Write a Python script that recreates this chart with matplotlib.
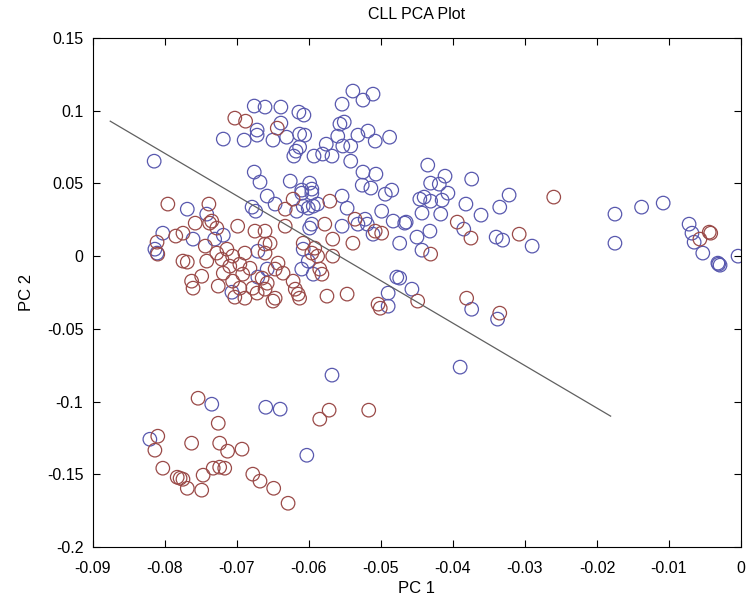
import numpy as np
import matplotlib.pyplot as plt

plt.rcParams['font.family'] = ['Liberation Sans', 'DejaVu Sans']

# grupo 1 (azul)
blue_x = [-0.0815, -0.0719, -0.0690, -0.0676, -0.0676, -0.0668, -0.0539, -0.0511, -0.0525, -0.0554,
          -0.0661, -0.0639, -0.0614, -0.0607, -0.0639, -0.0557, -0.0551, -0.0672, -0.0672, -0.0650,
          -0.0631, -0.0613, -0.0606, -0.0560, -0.0532, -0.0518, -0.0508, -0.0488, -0.0576, -0.0553,
          -0.0542, -0.0613, -0.0618, -0.0621, -0.0593, -0.0581, -0.0568, -0.0542, -0.0626, -0.0599,
          -0.0610, -0.0596, -0.0525, -0.0507, -0.0526, -0.0514, -0.0494, -0.0485, -0.0554, -0.0658,
          -0.0435, -0.0411, -0.0374, -0.0431, -0.0419, -0.0407, -0.0446, -0.0440, -0.0431, -0.0415,
          -0.0382, -0.0322, -0.0335, -0.0361, -0.0443, -0.0417, -0.0465, -0.0432, -0.0450, -0.0385,
          -0.0340, -0.0331, -0.0290, -0.0474, -0.0443, -0.0474, -0.0457, -0.0374, -0.0338, -0.0175,
          -0.0138, -0.0108, -0.0072, -0.0068, -0.0065, -0.0053, -0.0175, -0.0032, -0.0031, -0.0029,
          -0.0004, -0.0769, -0.0742, -0.0803, -0.0761, -0.0731, -0.0719, -0.0814, -0.0811, -0.0671,
          -0.0679, -0.0674, -0.0707, -0.0671, -0.0658, -0.0647, -0.0610, -0.0596, -0.0547, -0.0608,
          -0.0601, -0.0594, -0.0588, -0.0617, -0.0596, -0.0599, -0.0554, -0.0532, -0.0522, -0.0519,
          -0.0511, -0.0499, -0.0483, -0.0467, -0.0608, -0.0601, -0.0610, -0.0594, -0.0478, -0.0490,
          -0.0490, -0.0735, -0.0821, -0.0660, -0.0640, -0.0568, -0.0390, -0.0603]
blue_y = [0.0653, 0.0805, 0.0798, 0.1032, 0.0578, 0.0509, 0.1135, 0.1114, 0.1073, 0.1045,
          0.1025, 0.1025, 0.0990, 0.0970, 0.0915, 0.0908, 0.0922, 0.0867, 0.0832, 0.0798,
          0.0818, 0.0839, 0.0832, 0.0825, 0.0832, 0.0860, 0.0791, 0.0818, 0.0770, 0.0757,
          0.0757, 0.0750, 0.0722, 0.0688, 0.0688, 0.0702, 0.0688, 0.0653, 0.0516, 0.0502,
          0.0454, 0.0461, 0.0578, 0.0564, 0.0488, 0.0468, 0.0426, 0.0454, 0.0413, 0.0413,
          0.0626, 0.0550, 0.0530, 0.0502, 0.0495, 0.0433, 0.0392, 0.0406, 0.0378, 0.0385,
          0.0358, 0.0420, 0.0337, 0.0282, 0.0296, 0.0289, 0.0234, 0.0172, 0.0131, 0.0186,
          0.0131, 0.0110, 0.0069, 0.0089, 0.0041, -0.0151, -0.0227, -0.0365, -0.0433, 0.0289,
          0.0337, 0.0365, 0.0220, 0.0158, 0.0096, 0.0021, 0.0089, -0.0048, -0.0055, -0.0062,
          0.0000, 0.0323, 0.0289, 0.0158, 0.0117, 0.0117, 0.0144, 0.0048, 0.0021, 0.0034,
          0.0337, 0.0309, -0.0248, -0.0144, -0.0089, 0.0358, 0.0433, 0.0433, 0.0330, 0.0344,
          0.0330, 0.0344, 0.0358, 0.0309, 0.0220, 0.0193, 0.0206, 0.0220, 0.0254, 0.0220,
          0.0151, 0.0309, 0.0241, 0.0227, 0.0048, -0.0034, -0.0089, -0.0124, -0.0144, -0.0254,
          -0.0344, -0.1018, -0.1259, -0.1039, -0.1052, -0.0818, -0.0763, -0.1369]

# grupo 2 (vermelho)
red_x = [-0.0703, -0.0688, -0.0644, -0.0260, -0.0394, -0.0375, -0.0308, -0.0431, -0.0449, -0.0381,
         -0.0335, -0.0044, -0.0042, -0.0057, -0.0796, -0.0739, -0.0758, -0.0785, -0.0775, -0.0811,
         -0.0810, -0.0775, -0.0769, -0.0742, -0.0744, -0.0728, -0.0735, -0.0699, -0.0675, -0.0661,
         -0.0728, -0.0714, -0.0721, -0.0706, -0.0689, -0.0710, -0.0696, -0.0682, -0.0692, -0.0719,
         -0.0749, -0.0763, -0.0761, -0.0726, -0.0706, -0.0696, -0.0678, -0.0703, -0.0689, -0.0672,
         -0.0661, -0.0738, -0.0622, -0.0633, -0.0571, -0.0633, -0.0578, -0.0567, -0.0539, -0.0536,
         -0.0508, -0.0499, -0.0661, -0.0654, -0.0661, -0.0643, -0.0647, -0.0636, -0.0665, -0.0658,
         -0.0622, -0.0619, -0.0647, -0.0650, -0.0615, -0.0613, -0.0588, -0.0596, -0.0608, -0.0592,
         -0.0585, -0.0567, -0.0582, -0.0575, -0.0547, -0.0504, -0.0501, -0.0754, -0.0726, -0.0810,
         -0.0814, -0.0763, -0.0724, -0.0713, -0.0693, -0.0803, -0.0783, -0.0779, -0.0775, -0.0769,
         -0.0749, -0.0747, -0.0733, -0.0724, -0.0717, -0.0678, -0.0668, -0.0649, -0.0629, -0.0572,
         -0.0585, -0.0517]
red_y = [0.0949, 0.0928, 0.0880, 0.0406, 0.0234, 0.0124, 0.0151, 0.0014, -0.0309, -0.0289,
         -0.0392, 0.0165, 0.0158, 0.0117, 0.0358, 0.0358, 0.0227, 0.0138, 0.0158, 0.0096,
         0.0014, -0.0034, -0.0041, -0.0034, 0.0069, 0.0193, 0.0241, 0.0206, 0.0172, 0.0083,
         0.0021, 0.0048, -0.0021, 0.0000, 0.0021, -0.0069, -0.0055, -0.0083, -0.0124, -0.0117,
         -0.0138, -0.0172, -0.0220, -0.0206, -0.0172, -0.0220, -0.0220, -0.0282, -0.0289, -0.0254,
         -0.0227, 0.0227, 0.0392, 0.0323, 0.0378, 0.0206, 0.0220, 0.0117, 0.0089, 0.0254,
         0.0172, 0.0158, 0.0172, 0.0089, 0.0021, -0.0048, -0.0089, -0.0117, -0.0151, -0.0186,
         -0.0172, -0.0227, -0.0289, -0.0309, -0.0261, -0.0289, 0.0000, 0.0021, 0.0089, 0.0055,
         -0.0089, 0.0000, -0.0124, -0.0275, -0.0261, -0.0330, -0.0358, -0.0977, -0.1149, -0.1238,
         -0.1334, -0.1286, -0.1286, -0.1341, -0.1327, -0.1458, -0.1520, -0.1527, -0.1534, -0.1596,
         -0.1609, -0.1506, -0.1458, -0.1451, -0.1458, -0.1499, -0.1547, -0.1596, -0.1699, -0.1059,
         -0.1121, -0.1059]

# reta de separação
line_x = [-0.0876, -0.0181]
line_y = [0.0928, -0.1100]

xticks = np.arange(-0.09, 0.001, 0.01)
xlab = ["-0.09", "-0.08", "-0.07", "-0.06", "-0.05", "-0.04", "-0.03", "-0.02", "-0.01", "0"]
yticks = np.arange(-0.2, 0.151, 0.05)
ylab = ["-0.2", "-0.15", "-0.1", "-0.05", "0", "0.05", "0.1", "0.15"]

fig = plt.figure(figsize=(7.51, 6.07), dpi=100)
ax = fig.add_axes([0.1238, 0.0988, 0.8628, 0.8386])

ax.scatter(blue_x, blue_y, s=95, facecolors='none', edgecolors='#5858ae', linewidths=0.9)
ax.scatter(red_x, red_y, s=95, facecolors='none', edgecolors='#9a4a48', linewidths=0.9)
ax.plot(line_x, line_y, color='#606060', linewidth=0.9)

ax.set_xlim(-0.09, 0)
ax.set_ylim(-0.2, 0.15)
ax.set_xticks(xticks)
ax.set_xticklabels(xlab)
ax.set_yticks(yticks)
ax.set_yticklabels(ylab)
ax.tick_params(direction='in', top=True, right=True, length=5, labelsize=11.5)
ax.tick_params(axis='x', pad=10)
ax.tick_params(axis='y', pad=7)
for sp in ax.spines.values():
    sp.set_linewidth(0.8)

ax.set_title("CLL PCA Plot", fontsize=11.5, pad=14)
ax.set_xlabel("PC 1", fontsize=12, labelpad=4)
ax.set_ylabel("PC 2", fontsize=12, labelpad=9)

fig.savefig("out.png", dpi=100)
